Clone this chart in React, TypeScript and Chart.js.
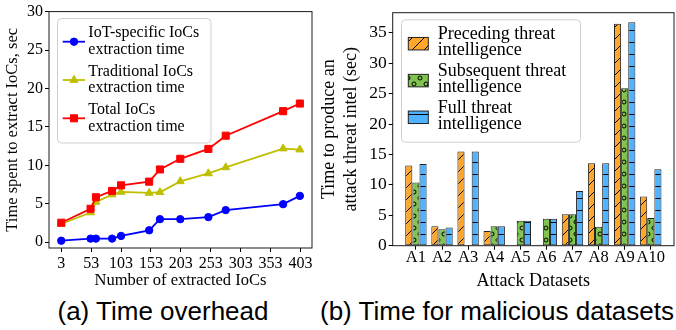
import React, { useEffect, useRef } from 'react';
import { Chart, registerables } from 'chart.js';

Chart.register(...registerables);

const SERIF = "'Liberation Serif', 'Times New Roman', serif";
const SANS = "'Liberation Sans', Arial, Helvetica, sans-serif";

// ---------- (a) Time overhead ----------
const iocCounts = [3, 52, 61, 88, 103, 150, 168, 202, 249, 278, 374, 402];
const iotTimes = [0.2, 0.47, 0.47, 0.47, 0.82, 1.55, 3.0, 3.0, 3.27, 4.18, 4.95, 6.03];
const traditionalTimes = [2.37, 3.87, 5.25, 6.2, 6.54, 6.41, 6.5, 7.92, 8.95, 9.73, 12.18, 12.05];
const totalTimes = [2.54, 4.35, 5.85, 6.67, 7.4, 7.88, 9.47, 10.85, 12.14, 13.86, 17.05, 18.04];
const leftXTicks = [3, 53, 103, 153, 203, 253, 303, 353, 403];
const leftYTicks = [0, 5, 10, 15, 20, 25, 30];
const leftSeriesNames = [
  ['IoT-specific IoCs', 'extraction time'],
  ['Traditional IoCs', 'extraction time'],
  ['Total IoCs', 'extraction time'],
];

// ---------- (b) Time for malicious datasets ----------
const attackDatasets = ['A1', 'A2', 'A3', 'A4', 'A5', 'A6', 'A7', 'A8', 'A9', 'A10'];
const precedingTimes = [13.2, 3.2, 15.5, 2.4, 0, 0.15, 5.15, 13.55, 36.5, 8.1];
const subsequentTimes = [10.4, 2.7, 0, 3.2, 4.1, 4.45, 5.15, 3.1, 25.9, 4.55];
const fullTimes = [13.45, 3.0, 15.5, 3.2, 4.1, 4.45, 9.0, 13.55, 36.75, 12.55];
const rightYTicks = [0, 5, 10, 15, 20, 25, 30, 35];
const rightSeriesNames = [
  ['Preceding threat', 'intelligence'],
  ['Subsequent threat', 'intelligence'],
  ['Full threat', 'intelligence'],
];

const BLUE = '#0000ff';
const OLIVE = '#bfbf00';
const RED = '#ff0000';
const ORANGE = '#ffa62b';
const GREEN = '#7fc44f';
const SKY = '#4fb3ff';
const EDGE = '#222222';

function makePattern(kind: string, color: string): CanvasPattern | string {
  const s = 12;
  const c = document.createElement('canvas');
  c.width = s;
  c.height = s;
  const g = c.getContext('2d');
  if (!g) return color;
  g.fillStyle = color;
  g.fillRect(0, 0, s, s);
  g.strokeStyle = '#000';
  g.fillStyle = '#000';
  g.lineWidth = 1;
  if (kind === 'diag') {
    g.beginPath();
    for (const k of [-1, 0, 1]) {
      g.moveTo(k * s, s);
      g.lineTo(k * s + s, 0);
    }
    g.stroke();
  } else if (kind === 'hline') {
    g.fillRect(0, 6, s, 1);
  } else if (kind === 'circle') {
    const pts = [[0, 0], [s, 0], [0, s], [s, s], [s / 2, s / 2]];
    for (const [x, y] of pts) {
      g.beginPath();
      g.arc(x, y, 2, 0, Math.PI * 2);
      g.stroke();
    }
  }
  const p = g.createPattern(c, 'repeat');
  return p || color;
}

const framePlugin = {
  id: 'frame',
  afterDatasetsDraw(chart: any) {
    const { ctx, chartArea } = chart;
    ctx.save();
    ctx.strokeStyle = '#1a1a1a';
    ctx.lineWidth = 1;
    ctx.strokeRect(chartArea.left, chartArea.top, chartArea.right - chartArea.left, chartArea.bottom - chartArea.top);
    ctx.restore();
  },
};

function roundRectPath(ctx: CanvasRenderingContext2D, x: number, y: number, w: number, h: number, r: number) {
  ctx.beginPath();
  ctx.moveTo(x + r, y);
  ctx.lineTo(x + w - r, y);
  ctx.arcTo(x + w, y, x + w, y + r, r);
  ctx.lineTo(x + w, y + h - r);
  ctx.arcTo(x + w, y + h, x + w - r, y + h, r);
  ctx.lineTo(x + r, y + h);
  ctx.arcTo(x, y + h, x, y + h - r, r);
  ctx.lineTo(x, y + r);
  ctx.arcTo(x, y, x + r, y, r);
  ctx.closePath();
}

function drawMarker(ctx: CanvasRenderingContext2D, style: string, x: number, y: number, r: number, color: string) {
  ctx.fillStyle = color;
  ctx.strokeStyle = color;
  ctx.lineWidth = 1;
  ctx.beginPath();
  if (style === 'circle') {
    ctx.arc(x, y, r, 0, Math.PI * 2);
  } else if (style === 'triangle') {
    let a = 0;
    ctx.moveTo(x + Math.sin(a) * r, y - Math.cos(a) * r);
    a += (2 * Math.PI) / 3;
    ctx.lineTo(x + Math.sin(a) * r, y - Math.cos(a) * r);
    a += (2 * Math.PI) / 3;
    ctx.lineTo(x + Math.sin(a) * r, y - Math.cos(a) * r);
    ctx.closePath();
  } else {
    const h = r * Math.SQRT1_2;
    ctx.rect(x - h, y - h, 2 * h, 2 * h);
  }
  ctx.fill();
  ctx.stroke();
}

type LegendCfg = {
  box: [number, number, number, number];
  entryY: number[];
  textX: number;
  lineOffsets: [number, number];
  fontSize: number;
  names: string[][];
  drawHandle: (ctx: CanvasRenderingContext2D, i: number, y: number) => void;
};

function legendPlugin(cfg: LegendCfg) {
  return {
    id: 'customLegend',
    afterDraw(chart: any) {
      const ctx: CanvasRenderingContext2D = chart.ctx;
      ctx.save();
      const [bx, by, bw, bh] = cfg.box;
      roundRectPath(ctx, bx + 0.5, by + 0.5, bw, bh, 4);
      ctx.fillStyle = 'rgba(255,255,255,0.85)';
      ctx.fill();
      ctx.strokeStyle = '#d0d0d0';
      ctx.lineWidth = 1;
      ctx.stroke();
      cfg.entryY.forEach((y, i) => {
        cfg.drawHandle(ctx, i, y);
        ctx.fillStyle = '#000';
        ctx.font = `${cfg.fontSize}px ${SERIF}`;
        ctx.textBaseline = 'middle';
        ctx.textAlign = 'left';
        ctx.fillText(cfg.names[i][0], cfg.textX, y + cfg.lineOffsets[0]);
        ctx.fillText(cfg.names[i][1], cfg.textX, y + cfg.lineOffsets[1]);
      });
      ctx.restore();
    },
  };
}

function LeftChart() {
  const ref = useRef<HTMLCanvasElement>(null);
  useEffect(() => {
    if (!ref.current) return;
    const tickFont = { family: SERIF, size: 16 };
    const titleFont = { family: SERIF, size: 16.5 };
    const colors = [BLUE, OLIVE, RED];
    const styles = ['circle', 'triangle', 'rect'];
    const radii = [3.7, 4.6, 5];
    const series = [iotTimes, traditionalTimes, totalTimes];
    const chart = new Chart(ref.current, {
      type: 'line',
      data: {
        datasets: series.map((vals, k) => ({
          label: leftSeriesNames[k].join(' '),
          data: iocCounts.map((x, i) => ({ x, y: vals[i] })),
          borderColor: colors[k],
          backgroundColor: colors[k],
          pointStyle: styles[k] as any,
          pointRadius: radii[k],
          pointBorderWidth: 1,
          pointBorderColor: colors[k],
          pointBackgroundColor: colors[k],
          borderWidth: 1.8,
          tension: 0,
          order: 3 - k,
        })),
      },
      options: {
        responsive: false,
        animation: false,
        devicePixelRatio: 1,
        layout: { padding: { top: 9.5, right: 4, left: 0, bottom: 0 } },
        plugins: { legend: { display: false }, tooltip: { enabled: false } },
        scales: {
          x: {
            type: 'linear',
            min: -17.5,
            max: 422.3,
            offset: false,
            afterBuildTicks: (s: any) => {
              s.ticks = leftXTicks.map((v) => ({ value: v }));
            },
            afterFit: (s: any) => {
              s.height = 44;
            },
            ticks: { autoSkip: false, maxRotation: 0, padding: 2, color: '#000', font: tickFont, callback: (v: any) => String(v) },
            grid: { drawOnChartArea: false, drawTicks: true, tickLength: 4, color: '#000', lineWidth: 1 },
            border: { display: false },
            title: { display: true, text: 'Number of extracted IoCs', color: '#000', font: titleFont, padding: { top: 0, bottom: 1.5 } },
          },
          y: {
            type: 'linear',
            min: -0.75,
            max: 30,
            afterBuildTicks: (s: any) => {
              s.ticks = leftYTicks.map((v) => ({ value: v }));
            },
            afterFit: (s: any) => {
              s.width = 49;
            },
            ticks: { autoSkip: false, padding: 2, color: '#000', font: tickFont, callback: (v: any) => String(v) },
            grid: { drawOnChartArea: false, drawTicks: true, tickLength: 4, color: '#000', lineWidth: 1 },
            border: { display: false },
            title: { display: true, text: 'Time spent to extract IoCs, sec', color: '#000', font: titleFont, padding: { top: 3, bottom: 0 } },
          },
        },
      },
      plugins: [
        framePlugin,
        legendPlugin({
          box: [57, 18, 153.5, 124.5],
          entryY: [41.7, 80, 118.3],
          textX: 88.3,
          lineOffsets: [-8.5, 8],
          fontSize: 16,
          names: leftSeriesNames,
          drawHandle: (ctx, i, y) => {
            ctx.strokeStyle = colors[i];
            ctx.lineWidth = 1.8;
            ctx.beginPath();
            ctx.moveTo(62.7, y);
            ctx.lineTo(85, y);
            ctx.stroke();
            drawMarker(ctx, styles[i], 74, y, radii[i], colors[i]);
          },
        }),
      ],
    } as any);
    return () => chart.destroy();
  }, []);
  return <canvas ref={ref} width={318} height={292} style={{ position: 'absolute', left: 0, top: 0, width: 318, height: 292 }} />;
}

function RightChart() {
  const ref = useRef<HTMLCanvasElement>(null);
  useEffect(() => {
    if (!ref.current) return;
    const tickFont = { family: SERIF, size: 16.5 };
    const titleFont = { family: SERIF, size: 18 };
    const fills = [makePattern('diag', ORANGE), makePattern('circle', GREEN), makePattern('hline', SKY)];
    const series = [precedingTimes, subsequentTimes, fullTimes];
    const OX = 318;
    const chart = new Chart(ref.current, {
      type: 'bar',
      data: {
        datasets: series.map((vals, k) => ({
          label: rightSeriesNames[k].join(' '),
          data: attackDatasets.map((_, i) => ({ x: i, y: vals[i] })),
          backgroundColor: fills[k],
          borderColor: EDGE,
          borderWidth: 1,
          borderSkipped: false,
          categoryPercentage: 0.82,
          barPercentage: 1,
        })),
      },
      options: {
        responsive: false,
        animation: false,
        devicePixelRatio: 1,
        layout: { padding: { top: 12.7, right: 2, left: 0, bottom: 0 } },
        plugins: { legend: { display: false }, tooltip: { enabled: false } },
        scales: {
          x: {
            type: 'linear',
            min: -0.89,
            max: 9.89,
            offset: false,
            afterBuildTicks: (s: any) => {
              s.ticks = attackDatasets.map((_, i) => ({ value: i }));
            },
            afterFit: (s: any) => {
              s.height = 46.3;
            },
            ticks: { autoSkip: false, maxRotation: 0, padding: -1.5, color: '#000', font: tickFont, callback: (v: any) => attackDatasets[Math.round(v)] ?? '' },
            grid: { offset: false, drawOnChartArea: false, drawTicks: true, tickLength: 4, color: '#000', lineWidth: 1 },
            border: { display: false },
            title: { display: true, text: 'Attack Datasets', color: '#000', font: titleFont, padding: { top: 0, bottom: 0 } },
          },
          y: {
            type: 'linear',
            min: 0,
            max: 38.3,
            afterBuildTicks: (s: any) => {
              s.ticks = rightYTicks.map((v) => ({ value: v }));
            },
            afterFit: (s: any) => {
              s.width = 74.7;
            },
            ticks: { autoSkip: false, padding: 2, color: '#000', font: { family: SERIF, size: 17.5 }, callback: (v: any) => String(v) },
            grid: { drawOnChartArea: false, drawTicks: true, tickLength: 4, color: '#000', lineWidth: 1 },
            border: { display: false },
            title: {
              display: true,
              text: ['Time to produce an', 'attack threat intel (sec)'],
              color: '#000',
              font: titleFont,
              padding: { top: 0.6, bottom: 0 },
            },
          },
        },
      },
      plugins: [
        framePlugin,
        legendPlugin({
          box: [401 - OX, 19.3, 179, 122.4],
          entryY: [43.7, 80.6, 117.3],
          textX: 437.7 - OX,
          lineOffsets: [-9, 7],
          fontSize: 18,
          names: rightSeriesNames,
          drawHandle: (ctx, i, y) => {
            const x = 408.3 - OX;
            const w = 20;
            const h = 12.5;
            ctx.fillStyle = fills[i] as any;
            ctx.fillRect(x, y - h / 2, w, h);
            ctx.strokeStyle = EDGE;
            ctx.lineWidth = 1;
            ctx.strokeRect(x, y - h / 2, w, h);
          },
        }),
      ],
    } as any);
    return () => chart.destroy();
  }, []);
  return <canvas ref={ref} width={358} height={292} style={{ position: 'absolute', left: 318, top: 0, width: 358, height: 292 }} />;
}

const captionStyle: React.CSSProperties = {
  position: 'absolute',
  top: 298,
  fontFamily: SANS,
  fontSize: 26,
  lineHeight: '26px',
  textAlign: 'center',
  whiteSpace: 'nowrap',
  color: '#000',
};

export default function App() {
  return (
    <div style={{ position: 'absolute', left: 0, top: 0, width: 676, height: 330, background: '#fff', overflow: 'hidden' }}>
      <LeftChart />
      <RightChart />
      <div style={{ ...captionStyle, left: 0, width: 326 }}>(a) Time overhead</div>
      <div style={{ ...captionStyle, left: 320, width: 350 }}>(b) Time for malicious datasets</div>
    </div>
  );
}
